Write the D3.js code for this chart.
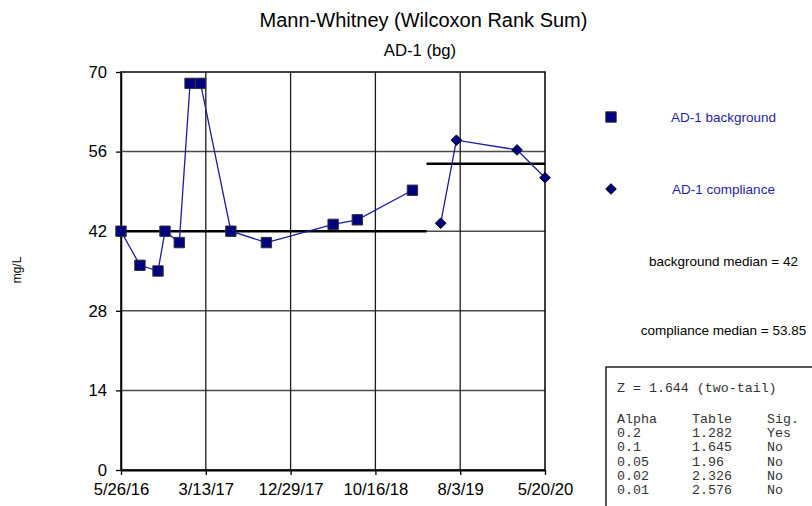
<!DOCTYPE html>
<html>
<head>
<meta charset="utf-8">
<script src="https://cdn.jsdelivr.net/npm/d3@7"></script>
<style>
  html, body { margin: 0; padding: 0; background: #fff; }
  svg { display: block; }
</style>
</head>
<body>
<svg id="chart" width="812" height="506"></svg>
<script>
// Sample dates and concentrations (mg/L)
const backgroundDates = ["2016-05-26","2016-07-30","2016-09-30","2016-10-24","2016-12-12","2017-01-18",
                         "2017-02-23","2017-06-07","2017-10-07","2018-05-24","2018-08-15","2019-02-20"];
const backgroundValues = [42, 36, 35, 42, 40, 68, 68, 42, 40, 43.2, 44, 49.2];
const complianceDates = ["2019-05-28","2019-07-21","2020-02-14","2020-05-20"];
const complianceValues = [43.4, 58, 56.3, 51.4];

const backgroundMedian = 42;
const complianceMedian = 53.85;

const xTickDates = ["2016-05-26","2017-03-13","2017-12-29","2018-10-16","2019-08-03","2020-05-20"];
const yTickValues = [0, 14, 28, 42, 56, 70];

const statLines = ["Z = 1.644 (two-tail)"];
const alphaCol = ["Alpha", "0.2", "0.1", "0.05", "0.02", "0.01"];
const tableCol = ["Table", "1.282", "1.645", "1.96", "2.326", "2.576"];
const sigCol   = ["Sig.", "Yes", "No", "No", "No", "No"];

const parse = d3.utcParse("%Y-%m-%d");
const fmt = d3.utcFormat("%-m/%-d/%y");

const svg = d3.select("#chart");
const plot = { left: 121, right: 545, top: 72, bottom: 470 };

const x = d3.scaleUtc()
  .domain([parse(xTickDates[0]), parse(xTickDates[xTickDates.length - 1])])
  .range([plot.left, plot.right]);
const y = d3.scaleLinear().domain([0, 70]).range([plot.bottom, plot.top]);

const navy = "#000080";
const lineBlue = "#1c1c9e";
const sans = "'Liberation Sans', Arial, sans-serif";
const mono = "'Liberation Mono', 'Courier New', monospace";

// Titles
svg.append("text").attr("x", 423.5).attr("y", 27).attr("text-anchor", "middle")
  .attr("font-family", sans).attr("font-size", 20).attr("fill", "#000")
  .text("Mann-Whitney (Wilcoxon Rank Sum)");
svg.append("text").attr("x", 420).attr("y", 56).attr("text-anchor", "middle")
  .attr("font-family", sans).attr("font-size", 16.7).attr("fill", "#000")
  .text("AD-1 (bg)");

// Y axis title
svg.append("text").attr("transform", "translate(21,270) rotate(-90)")
  .attr("text-anchor", "middle").attr("font-family", sans).attr("font-size", 12)
  .attr("fill", "#000").text("mg/L");

// Grid
const grid = svg.append("g");
grid.selectAll("line.h").data(yTickValues.filter(v => v > 0 && v < 70)).join("line")
  .attr("x1", plot.left).attr("x2", plot.right)
  .attr("y1", d => y(d)).attr("y2", d => y(d))
  .attr("stroke", "#4a4a4a").attr("stroke-width", 1.5);
grid.selectAll("line.v").data(xTickDates.slice(1, -1)).join("line")
  .attr("x1", d => x(parse(d))).attr("x2", d => x(parse(d)))
  .attr("y1", plot.top).attr("y2", plot.bottom)
  .attr("stroke", "#1a1a1a").attr("stroke-width", 1.3);

// Plot frame
svg.append("rect").attr("x", plot.left).attr("y", plot.top)
  .attr("width", plot.right - plot.left).attr("height", plot.bottom - plot.top)
  .attr("fill", "none").attr("stroke", "#000").attr("stroke-width", 1.5);

// Axes
const xAxis = d3.axisBottom(x).tickValues(xTickDates.map(parse)).tickFormat(fmt)
  .tickSizeInner(5).tickSizeOuter(0).tickPadding(8);
const gx = svg.append("g").attr("transform", `translate(0,${plot.bottom})`).call(xAxis);
gx.select(".domain").attr("stroke", "#000").attr("stroke-width", 2.2);
gx.selectAll(".tick line").attr("stroke", "#000").attr("stroke-width", 1.3);
gx.selectAll("text").attr("font-family", sans).attr("font-size", 16.7).attr("fill", "#000");

const yAxis = d3.axisLeft(y).tickValues(yTickValues).tickFormat(d3.format("d"))
  .tickSizeInner(5).tickSizeOuter(0).tickPadding(9);
const gy = svg.append("g").attr("transform", `translate(${plot.left},0)`).call(yAxis);
gy.select(".domain").attr("stroke", "#000").attr("stroke-width", 1.5);
gy.selectAll(".tick line").attr("stroke", "#000").attr("stroke-width", 1.3);
gy.selectAll("text").attr("font-family", sans).attr("font-size", 16.7).attr("fill", "#000");

// Median lines: background median up to the midpoint between the two groups,
// compliance median from there to the end of the record
const bgData = backgroundDates.map((d, i) => ({ date: parse(d), value: backgroundValues[i] }));
const cpData = complianceDates.map((d, i) => ({ date: parse(d), value: complianceValues[i] }));
const split = new Date((bgData[bgData.length - 1].date.getTime() + cpData[0].date.getTime()) / 2);
const medians = [
  { x0: x.domain()[0], x1: split, v: backgroundMedian },
  { x0: split, x1: x.domain()[1], v: complianceMedian }
];
svg.append("g").selectAll("line").data(medians).join("line")
  .attr("x1", d => x(d.x0)).attr("x2", d => x(d.x1))
  .attr("y1", d => y(d.v)).attr("y2", d => y(d.v))
  .attr("stroke", "#000").attr("stroke-width", 2.6);

// Series lines
const line = d3.line().x(d => x(d.date)).y(d => y(d.value));
svg.append("path").datum(bgData).attr("d", line)
  .attr("fill", "none").attr("stroke", lineBlue).attr("stroke-width", 1.3);
svg.append("path").datum(cpData).attr("d", line)
  .attr("fill", "none").attr("stroke", lineBlue).attr("stroke-width", 1.3);

// Markers
const sq = d3.symbol().type(d3.symbolSquare).size(108);
const dia = d3.symbol().type(d3.symbolDiamond2).size(72);
svg.append("g").selectAll("path").data(bgData).join("path")
  .attr("d", sq).attr("transform", d => `translate(${x(d.date)},${y(d.value)})`)
  .attr("fill", navy).attr("stroke", "#333").attr("stroke-width", 1);
svg.append("g").selectAll("path").data(cpData).join("path")
  .attr("d", dia).attr("transform", d => `translate(${x(d.date)},${y(d.value)})`)
  .attr("fill", navy).attr("stroke", "#000").attr("stroke-width", 1);

// Legend
const legendX = 723.5;
svg.append("path").attr("d", sq).attr("transform", "translate(611,117)")
  .attr("fill", navy).attr("stroke", "#333").attr("stroke-width", 1);
svg.append("path").attr("d", dia).attr("transform", "translate(611,189)")
  .attr("fill", navy).attr("stroke", "#000").attr("stroke-width", 1);
const legendTexts = [
  { t: "AD-1 background", y: 117, c: "#1f1f9f" },
  { t: "AD-1 compliance", y: 189, c: "#1f1f9f" },
  { t: "background median = " + backgroundMedian, y: 261, c: "#000" },
  { t: "compliance median = " + complianceMedian, y: 330, c: "#000" }
];
svg.append("g").selectAll("text").data(legendTexts).join("text")
  .attr("x", legendX).attr("y", d => d.y).attr("dy", "0.35em")
  .attr("text-anchor", "middle").attr("font-family", sans).attr("font-size", 13.5)
  .attr("fill", d => d.c).text(d => d.t);

// Test statistic box
svg.append("rect").attr("x", 606).attr("y", 367).attr("width", 230).attr("height", 160)
  .attr("fill", "#fff").attr("stroke", "#000").attr("stroke-width", 1.3);
const box = svg.append("g").attr("font-family", mono).attr("font-size", 13.3).attr("fill", "#333");
box.append("text").attr("x", 617).attr("y", 392).text(statLines[0]);
const rowY = i => 423 + i * 14.2;
[[alphaCol, 617], [tableCol, 692], [sigCol, 767]].forEach(([col, cx]) => {
  box.append("g").selectAll("text").data(col).join("text")
    .attr("x", cx).attr("y", (d, i) => rowY(i)).text(d => d);
});
</script>
</body>
</html>
